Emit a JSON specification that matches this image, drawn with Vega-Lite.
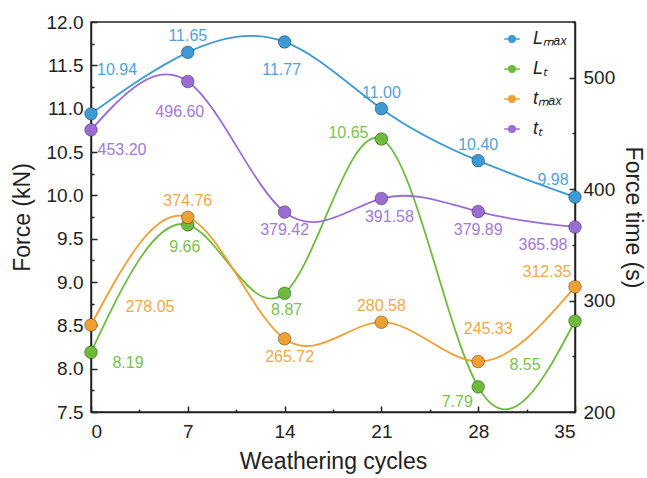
{
  "$schema": "https://vega.github.io/schema/vega-lite/v6.json",
  "width": 484,
  "height": 390,
  "autosize": "none",
  "padding": {"left": 91, "top": 22, "right": 72, "bottom": 66},
  "background": "white",
  "config": {
    "font": "Liberation Sans",
    "view": {"stroke": "#222", "strokeWidth": 1.5},
    "axis": {
      "domainColor": "#222", "domainWidth": 1.5,
      "tickColor": "#222", "tickWidth": 1.5, "tickSize": -6,
      "labelFontSize": 19, "labelColor": "#222",
      "titleFontSize": 23, "titleColor": "#222", "titleFontWeight": "normal",
      "grid": false
    },
    "legend": {
      "orient": "none", "legendX": 412, "legendY": 8, "padding": 0,
      "title": null, "labelFontSize": 18, "labelFontStyle": "italic", "labelColor": "#222",
      "labelOffset": 12, "rowPadding": 12, "symbolSize": 144, "symbolStrokeWidth": 1.5,
      "symbolType": "M-1.3,0L-0.55,0M0.55,0L1.3,0M-0.55,0A0.55,0.55,0,1,1,0.55,0A0.55,0.55,0,1,1,-0.55,0Z"
    },
    "text": {"fontSize": 16, "font": "Liberation Sans", "opacity": 0.9}
  },
  "datasets": {
    "force": [
      {"cycle": 0, "series": "Lmax", "value": 10.94},
      {"cycle": 7, "series": "Lmax", "value": 11.65},
      {"cycle": 14, "series": "Lmax", "value": 11.77},
      {"cycle": 21, "series": "Lmax", "value": 11.00},
      {"cycle": 28, "series": "Lmax", "value": 10.40},
      {"cycle": 35, "series": "Lmax", "value": 9.98},
      {"cycle": 0, "series": "Lt", "value": 8.19},
      {"cycle": 7, "series": "Lt", "value": 9.66},
      {"cycle": 14, "series": "Lt", "value": 8.87},
      {"cycle": 21, "series": "Lt", "value": 10.65},
      {"cycle": 28, "series": "Lt", "value": 7.79},
      {"cycle": 35, "series": "Lt", "value": 8.55}
    ],
    "time": [
      {"cycle": 0, "series": "tmax", "value": 278.05},
      {"cycle": 7, "series": "tmax", "value": 374.76},
      {"cycle": 14, "series": "tmax", "value": 265.72},
      {"cycle": 21, "series": "tmax", "value": 280.58},
      {"cycle": 28, "series": "tmax", "value": 245.33},
      {"cycle": 35, "series": "tmax", "value": 312.35},
      {"cycle": 0, "series": "tt", "value": 453.20},
      {"cycle": 7, "series": "tt", "value": 496.60},
      {"cycle": 14, "series": "tt", "value": 379.42},
      {"cycle": 21, "series": "tt", "value": 391.58},
      {"cycle": 28, "series": "tt", "value": 379.89},
      {"cycle": 35, "series": "tt", "value": 365.98}
    ]
  },
  "layer": [
    {
      "data": {"name": "force"},
      "encoding": {
        "x": {"field": "cycle", "type": "quantitative",
              "scale": {"domain": [0, 35], "nice": false},
              "axis": {"title": "Weathering cycles", "orient": "bottom", "values": [0, 7, 14, 21, 28, 35], "labelPadding": 16, "titlePadding": 9}},
        "y": {"field": "value", "type": "quantitative",
              "scale": {"domain": [7.5, 12], "nice": false, "zero": false}, "axis": null},
        "color": {"field": "series", "type": "nominal",
                  "scale": {"domain": ["Lmax", "Lt", "tmax", "tt"], "range": ["#3d9ad4", "#6cbb3c", "#f0a032", "#9a6cd4"]},
                  "legend": {
                    "labelExpr": "datum.label == 'Lmax' ? 'Lₘₐₓ' : datum.label == 'Lt' ? 'Lₜ' : datum.label == 'tmax' ? 'tₘₐₓ' : 'tₜ'",
                    "encode": {"symbols": {"update": {
                      "fill": {"scale": "color", "field": "value"},
                      "stroke": {"scale": "color", "field": "value"},
                      "strokeWidth": {"value": 1.5}, "opacity": {"value": 1}
                    }}}
                  }}
      },
      "layer": [
        {"mark": {"type": "line", "interpolate": "natural", "strokeWidth": 1.8, "clip": true},
         "encoding": {"y": {"field": "value", "type": "quantitative",
              "axis": {"title": "Force (kN)", "orient": "left", "values": [7.5, 8, 8.5, 9, 9.5, 10, 10.5, 11, 11.5, 12], "format": ".1f", "labelPadding": 14, "titlePadding": 12}}}},
        {"mark": {"type": "point", "filled": true, "size": 160, "opacity": 1, "stroke": "#000", "strokeOpacity": 0.35, "strokeWidth": 1},
         "encoding": {"y": {"field": "value", "type": "quantitative",
              "axis": {"title": null, "orient": "left", "values": [7.75, 8.25, 8.75, 9.25, 9.75, 10.25, 10.75, 11.25, 11.75], "labels": false, "domain": false, "tickSize": -3}}}},
        {"mark": {"type": "point", "filled": true, "size": 24, "opacity": 0.55, "color": "white", "xOffset": -2, "yOffset": -2}},
        {"transform": [{"filter": "datum.series == 'Lmax' && (datum.cycle == 7 || datum.cycle == 21 || datum.cycle == 28)"}],
         "mark": {"type": "text", "dx": 0, "dy": -16}, "encoding": {"text": {"field": "value", "format": ".2f"}}},
        {"transform": [{"filter": "datum.series == 'Lmax' && datum.cycle == 0"}],
         "mark": {"type": "text", "dx": 26, "dy": -44}, "encoding": {"text": {"field": "value", "format": ".2f"}}},
        {"transform": [{"filter": "datum.series == 'Lmax' && datum.cycle == 14"}],
         "mark": {"type": "text", "dx": -3, "dy": 28}, "encoding": {"text": {"field": "value", "format": ".2f"}}},
        {"transform": [{"filter": "datum.series == 'Lmax' && datum.cycle == 35"}],
         "mark": {"type": "text", "dx": -22, "dy": -17}, "encoding": {"text": {"field": "value", "format": ".2f"}}},
        {"transform": [{"filter": "datum.series == 'Lt' && datum.cycle == 0"}],
         "mark": {"type": "text", "dx": 37, "dy": 11}, "encoding": {"text": {"field": "value", "format": ".2f"}}},
        {"transform": [{"filter": "datum.series == 'Lt' && datum.cycle == 7"}],
         "mark": {"type": "text", "dx": -3, "dy": 22}, "encoding": {"text": {"field": "value", "format": ".2f"}}},
        {"transform": [{"filter": "datum.series == 'Lt' && datum.cycle == 14"}],
         "mark": {"type": "text", "dx": 2, "dy": 17}, "encoding": {"text": {"field": "value", "format": ".2f"}}},
        {"transform": [{"filter": "datum.series == 'Lt' && datum.cycle == 21"}],
         "mark": {"type": "text", "dx": -33, "dy": -6}, "encoding": {"text": {"field": "value", "format": ".2f"}}},
        {"transform": [{"filter": "datum.series == 'Lt' && datum.cycle == 28"}],
         "mark": {"type": "text", "dx": -21, "dy": 15}, "encoding": {"text": {"field": "value", "format": ".2f"}}},
        {"transform": [{"filter": "datum.series == 'Lt' && datum.cycle == 35"}],
         "mark": {"type": "text", "dx": -50, "dy": 44}, "encoding": {"text": {"field": "value", "format": ".2f"}}}
      ],
      "resolve": {"axis": {"y": "independent"}}
    },
    {
      "data": {"name": "time"},
      "encoding": {
        "x": {"field": "cycle", "type": "quantitative", "scale": {"domain": [0, 35], "nice": false},
              "axis": {"title": null, "orient": "bottom", "values": [3.5, 10.5, 17.5, 24.5, 31.5], "labels": false, "domain": false, "tickSize": -3}},
        "y": {"field": "value", "type": "quantitative",
              "scale": {"domain": [200, 550], "nice": false, "zero": false}, "axis": null},
        "color": {"field": "series", "type": "nominal",
                  "scale": {"domain": ["Lmax", "Lt", "tmax", "tt"], "range": ["#3d9ad4", "#6cbb3c", "#f0a032", "#9a6cd4"]}}
      },
      "layer": [
        {"mark": {"type": "line", "interpolate": "natural", "strokeWidth": 1.8, "clip": true},
         "encoding": {"y": {"field": "value", "type": "quantitative",
              "axis": {"title": "Force time (s)", "orient": "right", "values": [200, 300, 400, 500], "labelPadding": 14, "titlePadding": 6}}}},
        {"mark": {"type": "point", "filled": true, "size": 160, "opacity": 1, "stroke": "#000", "strokeOpacity": 0.35, "strokeWidth": 1},
         "encoding": {"y": {"field": "value", "type": "quantitative",
              "axis": {"title": null, "orient": "right", "values": [250, 350, 450, 550], "labels": false, "domain": false, "tickSize": -3}}}},
        {"mark": {"type": "point", "filled": true, "size": 24, "opacity": 0.55, "color": "white", "xOffset": -2, "yOffset": -2}},
        {"transform": [{"filter": "datum.series == 'tmax' && datum.cycle == 0"}],
         "mark": {"type": "text", "dx": 59, "dy": -18}, "encoding": {"text": {"field": "value", "format": ".2f"}}},
        {"transform": [{"filter": "datum.series == 'tmax' && (datum.cycle == 7 || datum.cycle == 21)"}],
         "mark": {"type": "text", "dx": 0, "dy": -16}, "encoding": {"text": {"field": "value", "format": ".2f"}}},
        {"transform": [{"filter": "datum.series == 'tmax' && datum.cycle == 14"}],
         "mark": {"type": "text", "dx": 5, "dy": 18}, "encoding": {"text": {"field": "value", "format": ".2f"}}},
        {"transform": [{"filter": "datum.series == 'tmax' && datum.cycle == 28"}],
         "mark": {"type": "text", "dx": 10, "dy": -32}, "encoding": {"text": {"field": "value", "format": ".2f"}}},
        {"transform": [{"filter": "datum.series == 'tmax' && datum.cycle == 35"}],
         "mark": {"type": "text", "dx": -28, "dy": -15}, "encoding": {"text": {"field": "value", "format": ".2f"}}},
        {"transform": [{"filter": "datum.series == 'tt' && datum.cycle == 0"}],
         "mark": {"type": "text", "dx": 31, "dy": 20}, "encoding": {"text": {"field": "value", "format": ".2f"}}},
        {"transform": [{"filter": "datum.series == 'tt' && datum.cycle == 7"}],
         "mark": {"type": "text", "dx": -8, "dy": 30}, "encoding": {"text": {"field": "value", "format": ".2f"}}},
        {"transform": [{"filter": "datum.series == 'tt' && (datum.cycle == 14 || datum.cycle == 28)"}],
         "mark": {"type": "text", "dx": 0, "dy": 18}, "encoding": {"text": {"field": "value", "format": ".2f"}}},
        {"transform": [{"filter": "datum.series == 'tt' && datum.cycle == 21"}],
         "mark": {"type": "text", "dx": 8, "dy": 18}, "encoding": {"text": {"field": "value", "format": ".2f"}}},
        {"transform": [{"filter": "datum.series == 'tt' && datum.cycle == 35"}],
         "mark": {"type": "text", "dx": -32, "dy": 18}, "encoding": {"text": {"field": "value", "format": ".2f"}}}
      ],
      "resolve": {"axis": {"y": "independent"}}
    }
  ],
  "resolve": {"scale": {"y": "independent"}, "axis": {"x": "independent"}}
}
